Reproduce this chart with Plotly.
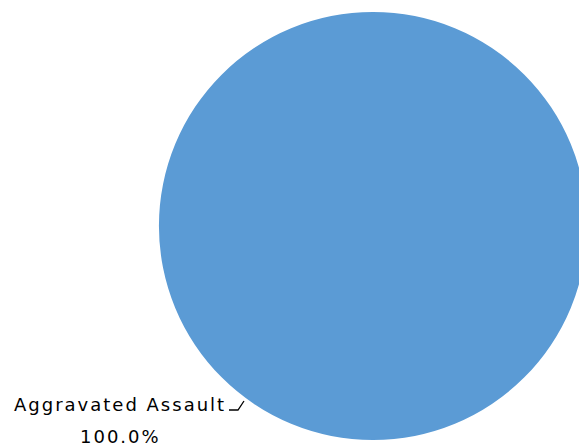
import plotly.graph_objects as go

categories = ["Aggravated Assault"]
values = [100.0]
pct_labels = ["100.0%"]
colors = ["#5B9BD5"]

W, H = 592, 448  # page window is 579 wide; the pie's right edge runs past it

fig = go.Figure()
fig.add_trace(go.Pie(
    labels=categories,
    values=values,
    marker=dict(colors=colors, line=dict(width=0)),
    textinfo="none",
    sort=False,
    direction="clockwise",
    rotation=0,
    domain=dict(x=[159/W, 587/W], y=[8/H, 436/H]),
    showlegend=False,
    hoverinfo="label+percent",
))

FONT = dict(family="DejaVu Sans", size=18, color="#000000")
SPACED = '<span style="letter-spacing:2px">{}</span>'
fig.add_annotation(
    x=120/W, y=1-404/H, xref="paper", yref="paper",
    text=SPACED.format(categories[0]), showarrow=False,
    xanchor="center", yanchor="middle", font=FONT,
)
fig.add_annotation(
    x=120/W, y=1-436/H, xref="paper", yref="paper",
    text=SPACED.format(pct_labels[0]), showarrow=False,
    xanchor="center", yanchor="middle", font=FONT,
)
# leader line
fig.add_shape(
    type="path", xref="paper", yref="paper",
    path=f"M {229/W} {1-410/H} L {238/W} {1-410/H} L {244/W} {1-401/H}",
    line=dict(color="#000000", width=1.3),
)

fig.update_layout(
    width=W, height=H,
    margin=dict(l=0, r=0, t=0, b=0),
    paper_bgcolor="white",
    plot_bgcolor="white",
)

fig.write_html(
    "out.html",
    config={"displayModeBar": False},
    post_script="document.body.style.margin='0';document.body.style.overflow='hidden';",
)
